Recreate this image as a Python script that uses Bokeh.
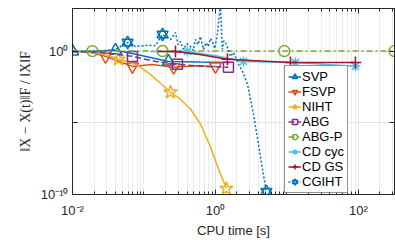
from bokeh.plotting import figure
from bokeh.models import FixedTicker, LogAxis, Legend, LegendItem
from bokeh.embed import file_html
from bokeh.resources import INLINE

# ---- data ----
svp_t = [0.010, 0.020, 0.040, 0.080, 0.220, 0.600, 1.60]
svp_e = [1.0, 1.05, 1.2, 0.6, 0.20, 0.18, 0.17]
svp_mk = [0, 2, 4]

fsvp_t = [0.010, 0.018, 0.029, 0.045, 0.069, 0.13, 0.26, 0.55, 1.00]
fsvp_e = [1.0, 0.85, 0.45, 0.2, 0.09, 0.12, 0.078, 0.1, 0.09]
fsvp_mk = [2, 4, 6, 8]

niht_t = [0.010, 0.018, 0.029, 0.044, 0.065, 0.089, 0.123, 0.170, 0.235, 0.324,
          0.447, 0.617, 0.851, 1.10, 1.42]
niht_e = [1.0, 0.85, 0.62, 0.28, 0.17, 0.078, 0.025, 0.006, 1.4e-3, 4.6e-4,
          9.4e-5, 8.5e-6, 2.2e-7, 6.4e-9, 2.6e-10]
niht_mk = [3, 8, 14]

abg_t = [0.010, 0.0247, 0.069, 0.145, 0.294, 0.70, 1.52]
abg_e = [1.0, 0.85, 0.45, 0.20, 0.125, 0.09, 0.078]
abg_mk = [2, 4, 6]

abgp_t = [0.010, 0.019, 0.182, 9.2, 320.0]
abgp_e = [1.05, 1.05, 1.05, 1.05, 1.05]
abgp_mk = [1, 2, 3, 4]

cdc_t = [0.123, 0.406, 1.0, 2.47, 13.2, 90.8]
cdc_e = [1.0, 1.0, 0.5, 0.2, 0.17, 0.091]
cdc_mk = [1, 3, 4, 5]

cdg_t = [0.155, 0.276, 0.60, 1.47, 11.2, 90.8]
cdg_e = [1.0, 1.0, 0.6, 0.28, 0.17, 0.17]
cdg_mk = [1, 3, 4, 5]

cg_t = [0.010, 0.0247, 0.040, 0.059, 0.076, 0.105, 0.145, 0.182, 0.235, 0.276,
        0.300, 0.324, 0.356, 0.40, 0.447, 0.49, 0.525, 0.57, 0.617, 0.679,
        0.74, 0.798, 0.85, 0.908, 0.98, 1.07, 1.17, 1.25, 1.31, 1.38,
        1.50, 1.62, 1.79, 1.95, 2.10, 2.39, 2.81, 3.40, 3.99, 4.54, 5.16]
cg_e = [1.0, 1.0, 1.38, 4.2, 2.2, 2.6, 2.6, 15.2, 6.8, 20.9,
        3.0, 4.9, 1.38, 3.5, 2.2, 1.2, 6.8, 3.0, 11.0, 1.38,
        4.0, 2.2, 8.0, 4.9, 1.6, 20.9, 2000.0, 1.38, 5.5, 4.2,
        1.5, 0.45, 0.85, 0.3, 0.125, 0.041, 5.1e-3, 4.2e-5, 3.5e-7, 6.4e-9, 1.6e-10]
cg_mk = [3, 7, 40]

x_major = [0.01, 1.0, 100.0]
x_labels = ["10⁻²", "10⁰", "10²"]
y_major = [1e-10, 1.0]
y_labels = ["10⁻¹⁰", "10⁰"]
y_unlabeled = [1e-5]

FONT = "Liberation Sans"
AX = "#262626"

p = figure(width=395, height=240, x_axis_type="log", y_axis_type="log",
           x_range=(0.01, 320), y_range=(1e-10, 1000),
           output_backend="svg", toolbar_location=None,
           min_border_left=72, min_border_right=1, min_border_top=8,
           min_border_bottom=44)
p.outline_line_color = AX
p.background_fill_color = "white"

x_minor = [m * 10.0 ** k for k in range(-2, 3) for m in range(2, 10)] + [0.1, 10.0]
xt = FixedTicker(ticks=x_major, minor_ticks=x_minor)
yt = FixedTicker(ticks=y_major, minor_ticks=y_unlabeled)
ygt = FixedTicker(ticks=y_major + y_unlabeled, minor_ticks=[])

def style_axis(ax, ticker, labels=True, minor_len=3):
    ax.ticker = ticker
    ax.axis_line_color = AX
    ax.major_tick_line_color = AX
    ax.minor_tick_line_color = AX
    ax.major_tick_in = 5
    ax.major_tick_out = 0
    ax.minor_tick_in = minor_len
    ax.minor_tick_out = 0
    ax.major_label_text_font = FONT
    ax.major_label_text_color = AX
    if labels:
        ax.major_label_text_font_size = "13px"
    else:
        ax.major_label_text_font_size = "1px"
        ax.major_label_text_alpha = 0
        ax.major_label_standoff = 0

style_axis(p.xaxis[0], xt)
style_axis(p.yaxis[0], yt, minor_len=5)
p.xaxis[0].major_label_overrides = {v: s for v, s in zip(x_major, x_labels)}
p.yaxis[0].major_label_overrides = {v: s for v, s in zip(y_major, y_labels)}
p.xaxis[0].major_label_standoff = 8
p.yaxis[0].major_label_standoff = 4
p.xaxis[0].axis_label = "CPU time [s]"
p.xaxis[0].axis_label_text_font = FONT
p.xaxis[0].axis_label_text_font_size = "13px"
p.xaxis[0].axis_label_text_font_style = "normal"
p.xaxis[0].axis_label_text_color = AX
p.xaxis[0].axis_label_standoff = 2
p.yaxis[0].axis_label = "‖X − X(t)‖F / ‖X‖F"
p.yaxis[0].axis_label_text_font = "Liberation Serif"
p.yaxis[0].axis_label_text_font_size = "14px"
p.yaxis[0].axis_label_text_font_style = "normal"
p.yaxis[0].axis_label_text_color = AX
p.yaxis[0].axis_label_standoff = 5

top = LogAxis()
style_axis(top, xt, labels=False)
p.add_layout(top, "above")
right = LogAxis()
style_axis(right, yt, labels=False, minor_len=5)
p.add_layout(right, "right")

p.xgrid.ticker = xt
p.xgrid.grid_line_color = "#e3e3e3"
p.xgrid.minor_grid_line_color = "#ececec"
p.ygrid.ticker = ygt
p.ygrid.grid_line_color = "#e3e3e3"

items = []

def series(name, t, e, mk, color, marker, dash="solid", size=10):
    ln = p.line(t, e, line_color=color, line_width=1.5, line_dash=dash)
    mx = [t[i] for i in mk]
    my = [e[i] for i in mk]
    rs = [ln]
    markers = marker if isinstance(marker, list) else [marker]
    for m in markers:
        rs.append(p.scatter(mx, my, marker=m, size=size, line_color=color,
                            line_width=1.5, fill_color=None))
    items.append(LegendItem(label=name, renderers=rs))

series("SVP", svp_t, svp_e, svp_mk, "#0072BD", "triangle", size=12)
series("FSVP", fsvp_t, fsvp_e, fsvp_mk, "#D95319", "inverted_triangle", size=12)
series("NIHT", niht_t, niht_e, niht_mk, "#EDB120", "star", size=14)
series("ABG", abg_t, abg_e, abg_mk, "#7E2F8E", "square", dash="6 3", size=10)
series("ABG-P", abgp_t, abgp_e, abgp_mk, "#77AC30", "circle", dash="6 3 2 3", size=11)
series("CD cyc", cdc_t, cdc_e, cdc_mk, "#4DBEEE", "asterisk", size=10)
series("CD GS", cdg_t, cdg_e, cdg_mk, "#A2142F", "cross", size=12)
series("CGIHT", cg_t, cg_e, cg_mk, "#0072BD", ["triangle", "inverted_triangle"],
       dash="2 2", size=11)

legend = Legend(items=items, location=(212, 1))
legend.label_text_font = FONT
legend.label_text_font_size = "13px"
legend.label_text_color = "#000000"
legend.label_height = 15
legend.label_width = 10
legend.glyph_height = 15
legend.glyph_width = 13
legend.label_standoff = 1
legend.spacing = 0
legend.padding = 3
legend.margin = 0
legend.border_line_color = AX
legend.border_line_width = 1
legend.background_fill_color = "white"
legend.background_fill_alpha = 1.0
p.add_layout(legend)

open("out.html", "w").write(file_html(p, INLINE))
